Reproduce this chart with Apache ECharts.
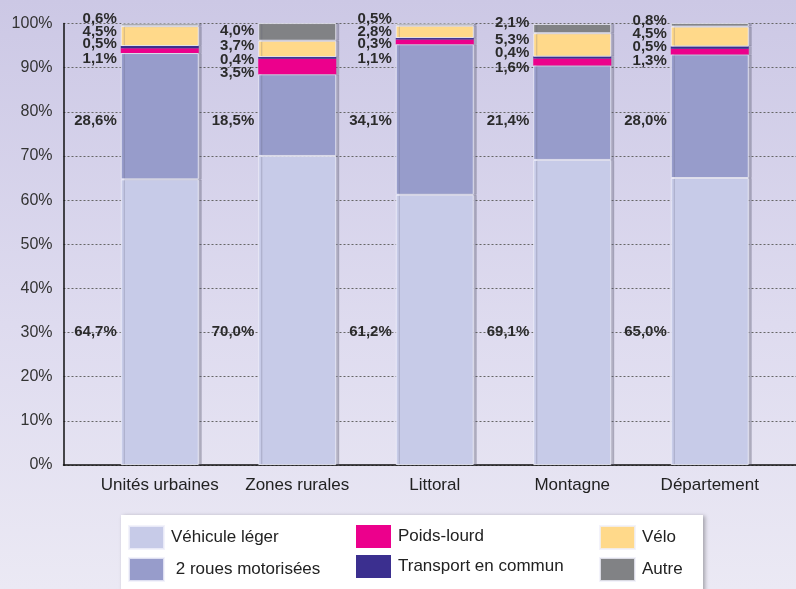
<!DOCTYPE html>
<html>
<head>
<meta charset="utf-8">
<script src="https://cdn.jsdelivr.net/npm/echarts@6/dist/echarts.min.js"></script>
<style>
  html, body { margin: 0; padding: 0; }
  #main { width: 796px; height: 589px; }
</style>
</head>
<body>
<div id="main"></div>
<script>
// Data (parts modales, %)
let categories = ['Unités urbaines', 'Zones rurales', 'Littoral', 'Montagne', 'Département'];
let vehiculeLeger = [64.7, 70.0, 61.2, 69.1, 65.0];
let deuxRoues = [28.6, 18.5, 34.1, 21.4, 28.0];
let poidsLourd = [1.1, 3.5, 1.1, 1.6, 1.3];
let transportCommun = [0.5, 0.4, 0.3, 0.4, 0.5];
let velo = [4.5, 3.7, 2.8, 5.3, 4.5];
let autre = [0.6, 4.0, 0.5, 2.1, 0.8];
let yTicks = [0, 10, 20, 30, 40, 50, 60, 70, 80, 90, 100];

// Where the value labels sit (in % of the y axis), label layout only
let rowVL = 30.1;
let row2RM = 77.9;
let smallRows = [
    // autre, velo, TC, PL
    [101.0, 98.0, 95.3, 92.0],
    [98.4, 95.0, 91.7, 88.9],
    [101.0, 98.0, 95.3, 92.0],
    [100.2, 96.4, 93.3, 90.0],
    [100.6, 97.6, 94.8, 91.6]
];

let plotTop = 23.5;
let plotBottom = 465;
let toPx = (v) => plotBottom - v / 100 * (plotBottom - plotTop);

let myChart = echarts.init(document.getElementById('main'));

let font = 'Liberation Sans, Arial, sans-serif';
let fmt = (v) => v.toFixed(1).replace('.', ',') + '%';

function labelRow(seriesName, idx) {
    switch (seriesName) {
        case 'Véhicule léger': return rowVL;
        case '2 roues motorisées': return row2RM;
        case 'Autre': return smallRows[idx][0];
        case 'Vélo': return smallRows[idx][1];
        case 'Transport en commun': return smallRows[idx][2];
        default: return smallRows[idx][3];
    }
}

function makeSeries(name, color, values, border) {
    return {
        name: name,
        type: 'bar',
        stack: 'total',
        xAxisIndex: 1,
        yAxisIndex: 1,
        barWidth: 78,
        itemStyle: {
            color: color,
            borderColor: border ? 'rgba(240,240,250,0.8)' : color,
            borderWidth: border ? 1 : 0,
            shadowColor: 'rgba(90,90,110,0.35)',
            shadowBlur: 0,
            shadowOffsetX: 3
        },
        label: {
            show: true,
            position: 'left',
            color: '#2b2b2b',
            fontFamily: font,
            fontWeight: 'bold',
            fontSize: 15,
            formatter: (p) => fmt(p.value)
        },
        labelLayout: (params) => {
            let name = mySeries[params.seriesIndex].name;
            return {
                x: params.rect.x - 4,
                y: toPx(labelRow(name, params.dataIndex)),
                align: 'right',
                verticalAlign: 'middle'
            };
        },
        data: values
    };
}

let mySeries = [
    makeSeries('Véhicule léger', '#c7cbe8', vehiculeLeger, true),
    makeSeries('2 roues motorisées', '#979ccb', deuxRoues, true),
    makeSeries('Poids-lourd', '#ec008c', poidsLourd, false),
    makeSeries('Transport en commun', '#3b2f8f', transportCommun, false),
    makeSeries('Vélo', '#ffd98a', velo, true),
    makeSeries('Autre', '#818285', autre, true)
];

let legendBase = {
    orient: 'vertical',
    top: 525,
    padding: 0,
    icon: 'rect',
    itemWidth: 35,
    itemHeight: 23,
    itemGap: 7,
    selectedMode: false,
    textStyle: {
        color: '#222',
        fontFamily: font,
        fontSize: 17,
        padding: [0, 0, 0, 2]
    }
};

let option = {
    backgroundColor: {
        type: 'linear', x: 0, y: 0, x2: 0, y2: 1,
        colorStops: [
            { offset: 0, color: '#ccc8e5' },
            { offset: 0.55, color: '#dedbef' },
            { offset: 1, color: '#ebe9f4' }
        ]
    },
    animation: false,
    graphic: [{
        type: 'rect',
        z: 0,
        shape: { x: 121, y: 515, width: 582, height: 90 },
        style: {
            fill: '#ffffff',
            shadowColor: 'rgba(0,0,0,0.3)',
            shadowBlur: 4,
            shadowOffsetX: 2,
            shadowOffsetY: 1
        }
    }],
    legend: [
        Object.assign({}, legendBase, {
            left: 128,
            data: ['Véhicule léger', '2 roues motorisées'],
            formatter: (n) => n === '2 roues motorisées' ? ' ' + n : n
        }),
        Object.assign({}, legendBase, { left: 356, data: ['Poids-lourd', 'Transport en commun'] }),
        Object.assign({}, legendBase, { left: 599, data: ['Vélo', 'Autre'] })
    ],
    grid: [
        { left: 63.5, right: 0, top: plotTop, bottom: 589 - plotBottom },
        { left: 91, width: 687.5, top: plotTop, bottom: 589 - plotBottom }
    ],
    xAxis: [
        {
            gridIndex: 0,
            type: 'category',
            data: [''],
            axisLine: { show: true, lineStyle: { color: '#111', width: 1.5 } },
            axisTick: { show: false },
            axisLabel: { show: false }
        },
        {
            gridIndex: 1,
            type: 'category',
            data: categories,
            axisLine: { show: false },
            axisTick: { show: false },
            axisLabel: {
                interval: 0,
                color: '#222',
                fontFamily: font,
                fontSize: 17,
                margin: 12
            }
        }
    ],
    yAxis: [
        {
            gridIndex: 0,
            type: 'value',
            min: yTicks[0],
            max: yTicks[yTicks.length - 1],
            interval: yTicks[1] - yTicks[0],
            axisLine: { show: true, lineStyle: { color: '#111', width: 1.5 } },
            axisTick: { show: false },
            axisLabel: {
                color: '#333',
                fontFamily: font,
                fontSize: 16,
                margin: 11,
                formatter: '{value}%'
            },
            splitLine: {
                show: true,
                lineStyle: { color: '#666', type: [2, 2], width: 1 }
            }
        },
        {
            gridIndex: 1,
            type: 'value',
            min: 0,
            max: 100,
            show: false,
            splitLine: { show: false }
        }
    ],
    series: mySeries
};

option && myChart.setOption(option);
</script>
</body>
</html>
